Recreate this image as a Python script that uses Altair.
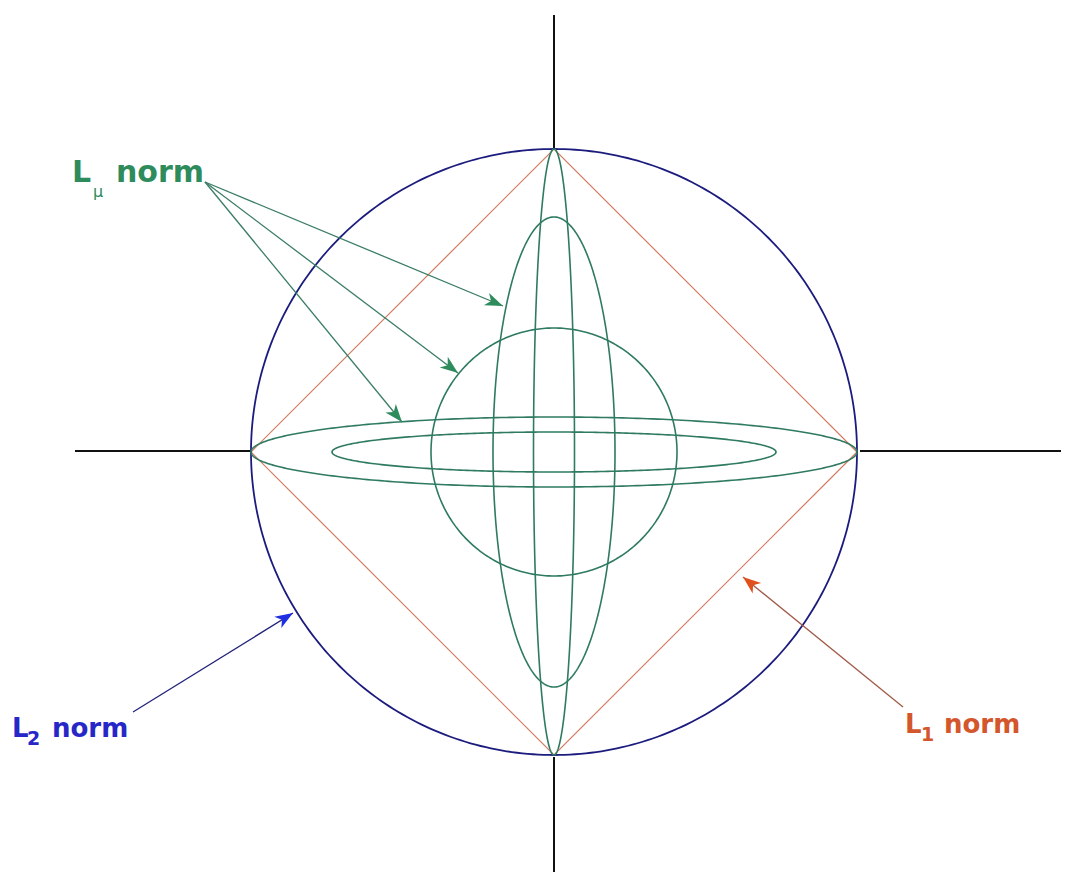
import numpy as np
import pandas as pd
import altair as alt

# ---- geometry (pixel units of the 1069x882 image) ----
center_x, center_y = 554, 452
l2_radius = 303            # blue circle
l1_half_diagonal = 303     # orange diamond

# green L_mu curves: semi-axis along x and along y
mu_names = ["circle", "tall_ellipse", "wide_ellipse", "tall_lens", "wide_lens"]
mu_ax = [123, 61, 222, 20.5, 303]
mu_ay = [124, 235, 20, 303, 35]

# black axis stubs outside the circle
axis_x1 = [75, 860, 554, 554]
axis_y1 = [451, 451, 15, 757]
axis_x2 = [251, 1069, 554, 554]
axis_y2 = [451, 451, 149, 882]

# arrows (start -> tip)
arrow_group = ["mu", "mu", "mu", "l2", "l1"]
arrow_x0 = [205, 205, 205, 133, 903]
arrow_y0 = [182, 182, 182, 712, 707]
arrow_x1 = [503, 458, 402, 293, 743]
arrow_y1 = [306, 373, 422, 613, 577]

# labels
main_text = ["L", "norm", "L", "norm", "L", "norm"]
main_group = ["mu", "mu", "l2", "l2", "l1", "l1"]
main_x = [72, 116, 12, 52, 905, 944]
main_y = [182, 182, 737, 737, 733, 733]

sub_text = ["\u03bc", "2", "1"]
sub_group = ["mu", "l2", "l1"]
sub_x = [93, 27, 921]
sub_y = [197, 745, 741]

group_domain = ["mu", "l2", "l1"]
text_colors = ["#2e8b5c", "#2727c8", "#d4562c"]
shaft_colors = ["#3b7d66", "#22227a", "#a05a48"]
head_colors = ["#2e8b5c", "#2030e0", "#e0501c"]

# ---- build tables ----
t = np.linspace(0, 2 * np.pi, 361)
rows = []
for name, ax, ay in zip(mu_names, mu_ax, mu_ay):
    for i, tt in enumerate(t):
        rows.append({"shape": name, "i": i,
                     "x": center_x + ax * np.cos(tt),
                     "y": center_y + ay * np.sin(tt)})
green_df = pd.DataFrame(rows)

circle_df = pd.DataFrame({"i": np.arange(len(t)),
                          "x": center_x + l2_radius * np.cos(t),
                          "y": center_y + l2_radius * np.sin(t)})

dx = [1, 0, -1, 0, 1]
dy = [0, 1, 0, -1, 0]
diamond_df = pd.DataFrame({"i": range(5),
                           "x": [center_x + l1_half_diagonal * a for a in dx],
                           "y": [center_y + l1_half_diagonal * b for b in dy]})

axes_df = pd.DataFrame({"x": axis_x1, "y": axis_y1, "x2": axis_x2, "y2": axis_y2})

arrow_df = pd.DataFrame({"g": arrow_group, "x": arrow_x0, "y": arrow_y0,
                         "x2": arrow_x1, "y2": arrow_y1})
arrow_df["ang"] = (np.degrees(np.arctan2(arrow_df.x2 - arrow_df.x,
                                         -(arrow_df.y2 - arrow_df.y))) + 360) % 360

main_df = pd.DataFrame({"t": main_text, "g": main_group, "x": main_x, "y": main_y})
sub_df = pd.DataFrame({"t": sub_text, "g": sub_group, "x": sub_x, "y": sub_y})

# ---- scales: 1 data unit = 1 screen pixel ----
W, H = 1053, 864
xs = alt.Scale(domain=[8, 8 + W], nice=False, zero=False)
ys = alt.Scale(domain=[8, 8 + H], nice=False, zero=False, reverse=True)
X = lambda f="x": alt.X(f"{f}:Q", scale=xs, axis=None)
Y = lambda f="y": alt.Y(f"{f}:Q", scale=ys, axis=None)

axes_layer = alt.Chart(axes_df).mark_rule(color="#111111", strokeWidth=2).encode(
    x=X(), y=Y(), x2="x2:Q", y2="y2:Q")

circle_layer = alt.Chart(circle_df).mark_line(color="#1c1c7e", strokeWidth=1.8).encode(
    x=X(), y=Y(), order="i:Q")

diamond_layer = alt.Chart(diamond_df).mark_line(color="#d27a60", strokeWidth=1.2).encode(
    x=X(), y=Y(), order="i:Q")

green_layer = alt.Chart(green_df).mark_line(color="#2f7a62", strokeWidth=1.6).encode(
    x=X(), y=Y(), detail="shape:N", order="i:Q")

shaft_layer = alt.Chart(arrow_df).mark_rule(strokeWidth=1.3).encode(
    x=X(), y=Y(), x2="x2:Q", y2="y2:Q",
    color=alt.Color("g:N", scale=alt.Scale(domain=group_domain, range=shaft_colors), legend=None))

head_layer = alt.Chart(arrow_df).mark_point(
    shape="M0,0 L0.75,2 L0,1.45 L-0.75,2 Z", filled=True, opacity=1, size=320, strokeWidth=0
).encode(
    x=X("x2"), y=Y("y2"),
    angle=alt.Angle("ang:Q", scale=None),
    color=alt.Color("g:N", scale=alt.Scale(domain=group_domain, range=head_colors), legend=None))

def tcolor():
    return alt.Color("g:N", scale=alt.Scale(domain=group_domain, range=text_colors), legend=None)

mu_main = alt.Chart(main_df).transform_filter(alt.datum.g == "mu").mark_text(
    font="DejaVu Sans", fontWeight="bold", fontSize=30, align="left", baseline="alphabetic"
).encode(x=X(), y=Y(), text="t:N", color=tcolor())

other_main = alt.Chart(main_df).transform_filter(alt.datum.g != "mu").mark_text(
    font="DejaVu Sans", fontWeight="bold", fontSize=26, align="left", baseline="alphabetic"
).encode(x=X(), y=Y(), text="t:N", color=tcolor())

mu_sub = alt.Chart(sub_df).transform_filter(alt.datum.g == "mu").mark_text(
    font="DejaVu Sans", fontSize=16, align="left", baseline="alphabetic"
).encode(x=X(), y=Y(), text="t:N", color=tcolor())

other_sub = alt.Chart(sub_df).transform_filter(alt.datum.g != "mu").mark_text(
    font="DejaVu Sans", fontWeight="bold", fontSize=19, align="left", baseline="alphabetic"
).encode(x=X(), y=Y(), text="t:N", color=tcolor())

chart = alt.layer(
    axes_layer, diamond_layer, circle_layer, green_layer,
    shaft_layer, head_layer, mu_main, other_main, mu_sub, other_sub
).resolve_scale(color="independent").properties(
    width=W, height=H, padding=0, autosize=alt.AutoSizeParams(type="none"),
    background="white"
).configure_view(stroke=None)

chart.save("out.html", embed_options={"renderer": "svg", "actions": False})
